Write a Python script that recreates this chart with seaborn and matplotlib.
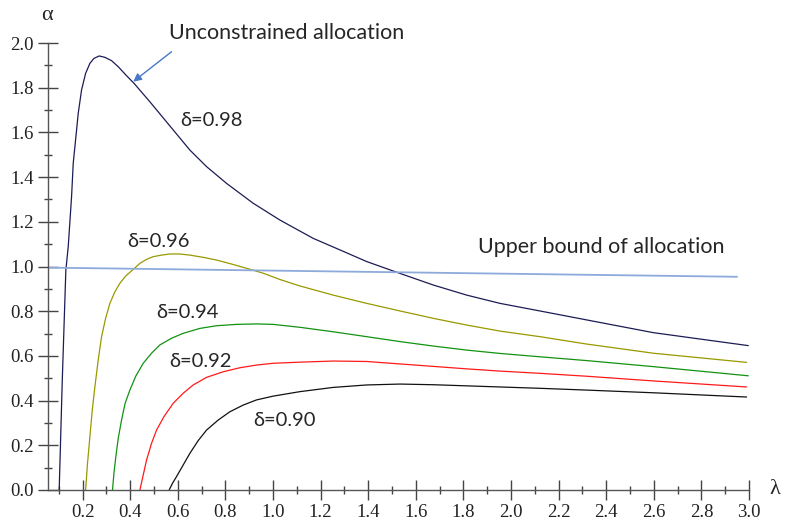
import matplotlib
matplotlib.use("Agg")
import matplotlib.pyplot as plt
from matplotlib.ticker import MultipleLocator
import pandas as pd
import seaborn as sns

# values (lambda, alpha)
lam_098 = [0.102, 0.115, 0.130, 0.140, 0.154, 0.161, 0.168, 0.182, 0.196, 0.213, 0.231,
           0.248, 0.270, 0.294, 0.322, 0.350, 0.382, 0.416, 0.483, 0.581, 0.651, 0.721,
           0.805, 0.917, 1.029, 1.169, 1.282, 1.394, 1.534, 1.674, 1.814, 1.954, 2.122,
           2.318, 2.598, 2.997]
alpha_098 = [0.0, 0.492, 0.984, 1.089, 1.312, 1.462, 1.536, 1.685, 1.790, 1.864, 1.909,
             1.931, 1.942, 1.936, 1.921, 1.894, 1.857, 1.820, 1.737, 1.611, 1.521, 1.447,
             1.372, 1.283, 1.208, 1.126, 1.074, 1.022, 0.969, 0.917, 0.872, 0.835, 0.801,
             0.761, 0.704, 0.646]

lam_096 = [0.213, 0.221, 0.231, 0.241, 0.252, 0.266, 0.280, 0.297, 0.315, 0.336, 0.357,
           0.381, 0.413, 0.441, 0.469, 0.497, 0.532, 0.567, 0.609, 0.651, 0.707, 0.763,
           0.826, 0.889, 0.959, 1.029, 1.113, 1.253, 1.394, 1.534, 1.674, 1.814, 1.954,
           2.122, 2.318, 2.598, 2.990]
alpha_096 = [0.0, 0.119, 0.239, 0.358, 0.462, 0.582, 0.686, 0.768, 0.835, 0.887, 0.925,
             0.957, 0.987, 1.014, 1.032, 1.044, 1.051, 1.056, 1.056, 1.051, 1.041, 1.029,
             1.011, 0.992, 0.970, 0.942, 0.913, 0.872, 0.835, 0.801, 0.768, 0.738, 0.711,
             0.686, 0.653, 0.612, 0.571]

lam_094 = [0.326, 0.332, 0.340, 0.350, 0.364, 0.379, 0.399, 0.424, 0.455, 0.490, 0.525,
           0.574, 0.623, 0.693, 0.763, 0.847, 0.931, 1.001, 1.113, 1.253, 1.394, 1.534,
           1.674, 1.814, 1.954, 2.122, 2.318, 2.598, 2.997]
alpha_094 = [0.0, 0.075, 0.149, 0.231, 0.313, 0.388, 0.447, 0.510, 0.567, 0.612, 0.649,
             0.679, 0.701, 0.723, 0.735, 0.741, 0.743, 0.741, 0.728, 0.708, 0.686, 0.664,
             0.644, 0.626, 0.611, 0.596, 0.579, 0.552, 0.511]

lam_092 = [0.441, 0.455, 0.469, 0.490, 0.511, 0.542, 0.581, 0.623, 0.665, 0.721, 0.791,
           0.861, 0.931, 1.001, 1.113, 1.253, 1.394, 1.534, 1.674, 1.814, 1.954, 2.122,
           2.318, 2.598, 2.990]
alpha_092 = [0.0, 0.067, 0.134, 0.209, 0.268, 0.328, 0.388, 0.433, 0.470, 0.504, 0.529,
             0.547, 0.559, 0.567, 0.572, 0.577, 0.575, 0.564, 0.553, 0.542, 0.532, 0.522,
             0.509, 0.488, 0.461]

lam_090 = [0.564, 0.578, 0.595, 0.623, 0.651, 0.686, 0.721, 0.770, 0.819, 0.875, 0.931,
           1.001, 1.113, 1.253, 1.394, 1.534, 1.674, 1.814, 1.954, 2.122, 2.318, 2.598,
           2.990]
alpha_090 = [0.0, 0.030, 0.060, 0.112, 0.164, 0.221, 0.268, 0.313, 0.350, 0.380, 0.403,
             0.420, 0.440, 0.459, 0.470, 0.474, 0.471, 0.466, 0.461, 0.455, 0.447, 0.435,
             0.416]

bound_lam = [0.055, 2.95]
bound_alpha = [0.995, 0.954]

deltas = ["0.98", "0.96", "0.94", "0.92", "0.90"]
colors = ["#1c1c55", "#999900", "#129212", "#ff1a1a", "#111111"]

sns.set_theme(style="white")
plt.rcParams["font.family"] = ["Liberation Serif", "DejaVu Serif"]

rows = []
for d, xs, ys in zip(deltas,
                     [lam_098, lam_096, lam_094, lam_092, lam_090],
                     [alpha_098, alpha_096, alpha_094, alpha_092, alpha_090]):
    for x, y in zip(xs, ys):
        rows.append({"lam": x, "alpha": y, "delta": d})
df = pd.DataFrame(rows)

fig = plt.figure(figsize=(7.87, 5.23), dpi=100)
ax = fig.add_axes([48 / 787, 33 / 523, 701 / 787, 447 / 523])

sns.lineplot(data=df, x="lam", y="alpha", hue="delta", hue_order=deltas,
             palette=dict(zip(deltas, colors)), estimator=None, sort=False,
             linewidth=0.9, legend=False, ax=ax)
sns.lineplot(x=bound_lam, y=bound_alpha, color="#8eaadb", linewidth=1.3, ax=ax)

ax.set_xlim(0.055, 3.0)
ax.set_ylim(0, 2.0)
ax.xaxis.set_minor_locator(MultipleLocator(0.1))
ax.yaxis.set_minor_locator(MultipleLocator(0.1))
ax.set_xticks([0.2 * i for i in range(1, 16)])
ax.set_xticklabels([f"{0.2 * i:.1f}" for i in range(1, 16)])
ax.set_yticks([0.2 * i for i in range(0, 11)])
ax.set_yticklabels([f"{0.2 * i:.1f}" for i in range(0, 11)])

for side in ["top", "right"]:
    ax.spines[side].set_visible(False)
for side in ["left", "bottom"]:
    ax.spines[side].set_color("#555555")
    ax.spines[side].set_linewidth(1.0)

ax.tick_params(which="major", direction="inout", length=14, width=1.0,
               color="#444444", labelsize=13.5, labelcolor="#222222", pad=3)
ax.tick_params(which="minor", direction="inout", length=6, width=1.0, color="#444444")
ax.tick_params(axis="both", which="both", bottom=True, left=True)
ax.set_xlabel("")
ax.set_ylabel("")

ax.text(0.05, 2.125, "α", fontsize=16, ha="center", va="center", clip_on=False)
ax.text(3.11, 0.0, "λ", fontsize=16, ha="center", va="center", clip_on=False)

sans = ["Lato", "DejaVu Sans"]
mixed = ["Lato", "Liberation Serif"]
ax.text(0.563, 2.045, "Unconstrained allocation", family=sans, fontsize=15.5,
        ha="left", va="center", clip_on=False)
ax.annotate("", xy=(0.413, 1.827), xytext=(0.574, 1.961),
            arrowprops=dict(arrowstyle="-|>", color="#4a78c8", lw=1.0,
                            mutation_scale=12, shrinkA=0, shrinkB=0))
ax.text(1.863, 1.089, "Upper bound of allocation", family=sans, fontsize=15.5,
        ha="left", va="center")

label_pos = [(0.609, 1.655), (0.388, 1.111), (0.511, 0.793), (0.564, 0.574), (0.917, 0.313)]
for d, (x, y) in zip(deltas, label_pos):
    ax.text(x, y, f"δ={d}", family=mixed, fontsize=14.5, ha="left", va="center")

fig.savefig("out.png", dpi=100)
